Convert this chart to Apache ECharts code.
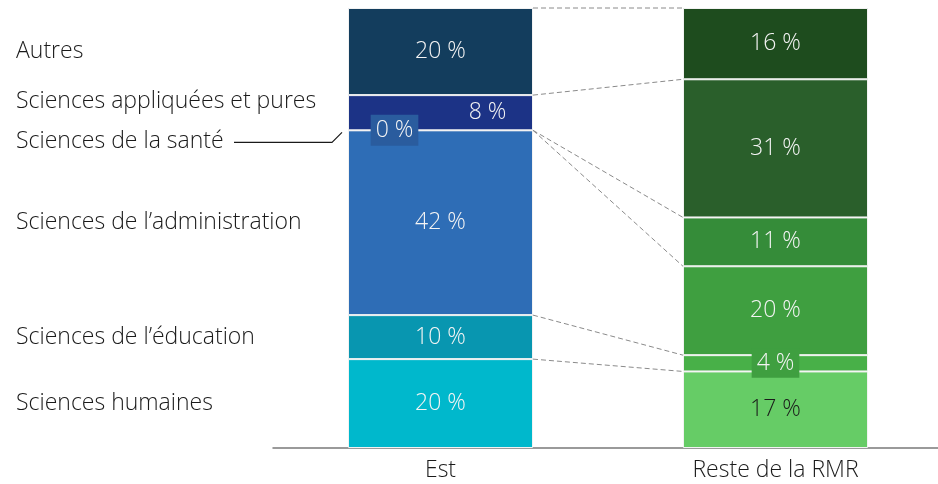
<!DOCTYPE html>
<html><head><meta charset="utf-8">
<script src="https://cdn.jsdelivr.net/npm/echarts@6/dist/echarts.min.js"></script>
<style>html,body{margin:0;padding:0;background:#fff}#c{width:938px;height:484px}</style>
</head><body><div id="c"></div>
<script>
const categories = ['Est', 'Reste de la RMR'];
const seriesNames = ['Sciences humaines', "Sciences de l\u2019éducation", "Sciences de l\u2019administration", 'Sciences de la santé', 'Sciences appliquées et pures', 'Autres'];
const estValues   = [20.2, 10.0, 42.0, 0, 8.0, 19.8];
const resteValues = [17.4, 3.7, 20.2, 11.1, 31.4, 16.2];
const estColors   = ['#00b8cc', '#0896b0', '#2e6db6', '#2e6db6', '#1c3386', '#133d5d'];
const resteColors = ['#66cc66', '#48b048', '#3f9f40', '#358c39', '#2a5f2b', '#1e4c1e'];

const FONT = "'Open Sans', 'Segoe UI', sans-serif";
const FS = 23;
const BAR_W = 185;

function cum(arr){ const out=[0]; arr.forEach(v=>out.push(out[out.length-1]+v)); return out; }
const estCum = cum(estValues), resteCum = cum(resteValues);

const labelBase = { show: true, position: 'inside', color: '#f4f4f4', fontSize: FS, fontFamily: FONT, fontWeight: 300,
  formatter: p => Math.round(p.value) + ' %' };

const barSeries = seriesNames.map((name, i) => {
  const estItem = { value: estValues[i], itemStyle: { color: estColors[i] } };
  const resteItem = { value: resteValues[i], itemStyle: { color: resteColors[i] } };
  if (i === 3) estItem.label = { offset: [-46, 0], backgroundColor: '#2a5c9e', padding: [5, 5, 3, 5] };
  if (i === 4) estItem.label = { offset: [47, 0] };
  if (i === 1) resteItem.label = { backgroundColor: '#3f9f40', padding: [4, 5, 2, 5] };
  if (i === 0) resteItem.label = { color: '#1a1a1a' };
  return {
    name, type: 'bar', stack: 'total', barWidth: BAR_W,
    itemStyle: { borderColor: '#f2f2f2', borderWidth: 1 },
    label: labelBase,
    data: [estItem, resteItem],
    z: 2
  };
});

const connectorData = [];
for (let i = 1; i < estCum.length; i++) connectorData.push([0, estCum[i], resteCum[i]]);

const connectorSeries = {
  type: 'custom', silent: true, z: 1,
  encode: { x: 0, y: 1 },
  data: connectorData,
  renderItem: (params, api) => {
    const p1 = api.coord([0, api.value(1)]);
    const p2 = api.coord([1, api.value(2)]);
    return { type: 'line', shape: { x1: p1[0] + BAR_W / 2, y1: p1[1], x2: p2[0] - BAR_W / 2, y2: p2[1] },
      style: { stroke: '#8a8a8a', lineWidth: 1, lineDash: [5, 3] } };
  }
};

const legendData = seriesNames.map((n, i) => [0, estCum[i] + estValues[i] / 2]);
const legendSeries = {
  type: 'custom', silent: true, z: 3,
  encode: { x: 0, y: 1 },
  data: legendData,
  renderItem: (params, api) => {
    const i = params.dataIndex;
    const p = api.coord([0, api.value(1)]);
    let y = p[1];
    if (i === 4) y -= 11;
    if (i === 3) y += 11;
    const children = [{ type: 'text', style: { x: 16, y: y, text: seriesNames[i], fill: '#1a1a1a', font: '300 ' + FS + 'px ' + FONT, textVerticalAlign: 'middle', textAlign: 'left' } }];
    if (i === 3) {
      const bx = p[0] - BAR_W / 2;
      children.push({ type: 'polyline', shape: { points: [[234, y + 1], [bx - 16, y + 1], [bx - 6, p[1] + 2]] }, style: { stroke: '#1a1a1a', lineWidth: 1.2, fill: null } });
    }
    return { type: 'group', children };
  }
};

const chart = echarts.init(document.getElementById('c'));
chart.setOption({
  animation: false,
  grid: { left: 273, width: 670, top: 8, bottom: 36, outerBoundsMode: 'none', containLabel: false },
  xAxis: { type: 'category', data: categories,
    axisLine: { lineStyle: { color: '#7a7a7a', width: 1.5 } }, axisTick: { show: false },
    axisLabel: { color: '#1a1a1a', fontSize: FS, fontFamily: FONT, fontWeight: 300, margin: 11 } },
  yAxis: { type: 'value', min: 0, max: 100, show: false, splitLine: { show: false } },
  series: [...barSeries, connectorSeries, legendSeries]
});
</script></body></html>
